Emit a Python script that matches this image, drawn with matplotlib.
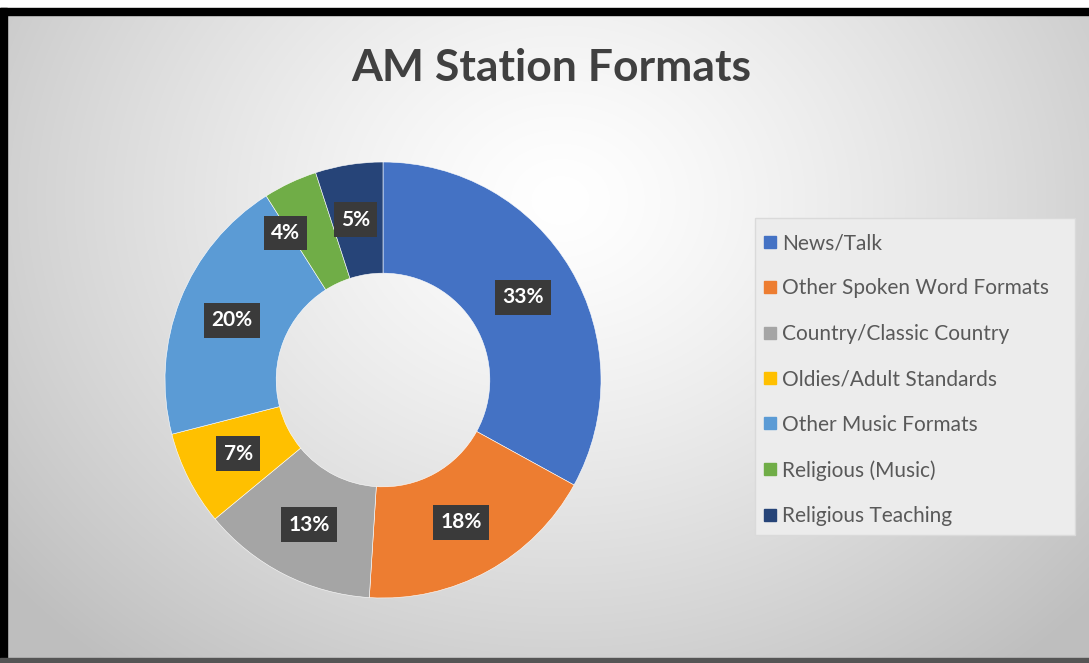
import numpy as np
import matplotlib.pyplot as plt
from matplotlib.patches import Rectangle
from matplotlib.lines import Line2D

formats = ["News/Talk", "Other Spoken Word Formats", "Country/Classic Country",
           "Oldies/Adult Standards", "Other Music Formats", "Religious (Music)",
           "Religious Teaching"]
shares = [33, 18, 13, 7, 20, 4, 5]
colors = ["#4472C4", "#ED7D31", "#A5A5A5", "#FFC000", "#5B9BD5", "#70AD47", "#264478"]
# small sideways nudge for labels that would collide (in ring radii)
nudge_x = [0, 0, 0, 0, 0, -0.13, -0.01]

W, H = 1089, 663
fig = plt.figure(figsize=(W / 100, H / 100), dpi=100)

# radial grey backdrop, bright near the title, darker at the edges
bg = fig.add_axes([0, 0, 1, 1])
yy, xx = np.mgrid[0:H, 0:W]
d = np.sqrt(((xx - 560) / 620) ** 2 + ((yy - 200) / 520) ** 2)
shade = 1.0 - 0.21 * np.clip(d, 0, 1.15) ** 1.3
bg.imshow(np.dstack([shade] * 3), extent=(0, W, H, 0), aspect='auto')
bg.set_xlim(0, W)
bg.set_ylim(H, 0)
bg.axis('off')

# frame: white strip, black top and left edges, grey bottom line
bg.add_patch(Rectangle((0, 0), W, 8, color='white'))
bg.add_patch(Rectangle((0, 8), W, 7, color='black'))
bg.add_patch(Rectangle((0, 8), 7, H, color='black'))
bg.add_patch(Rectangle((0, H - 5), W, 5, color='#555555'))

fig.text(551 / W, 1 - 68 / H, "AM Station Formats", ha='center', va='center',
         fontsize=32, fontweight='bold', color='#404040', family='Lato')

# donut, sized in pixels: centre (383, 380), outer radius 218
cx, cy, R = 383, 380, 218
ax = fig.add_axes([(cx - R) / W, (H - cy - R) / H, 2 * R / W, 2 * R / H])
wedges, _ = ax.pie(shares, colors=colors, radius=1, startangle=90, counterclock=False,
                   wedgeprops=dict(width=0.51, edgecolor='white', linewidth=0.4))
ax.set_xlim(-1, 1)
ax.set_ylim(-1, 1)
ax.set_aspect('equal')
ax.axis('off')

total = sum(shares)
start = 0
for v, nx in zip(shares, nudge_x):
    mid = start + v / 2
    ang = np.deg2rad(90 - 360 * mid / total)
    r = 0.745
    ax.text(r * np.cos(ang) + nx, r * np.sin(ang), f"{v}%", ha='center', va='center',
            color='white', fontsize=15, fontweight='bold', family='Lato',
            bbox=dict(boxstyle='square,pad=0.35', fc='#3a3a3a', ec='none'))
    start += v

# legend box
bg.add_patch(Rectangle((755, 218), 320, 317, fc='#ececec', ec='#dadada', lw=1))
handles = [Line2D([], [], marker='s', ls='none', markersize=8, color=c) for c in colors]
fig.legend(handles, formats, loc='upper left', bbox_to_anchor=(764 / W, 1 - 233 / H),
           frameon=False, labelcolor='#595959', handlelength=0.55,
           handletextpad=0.3, labelspacing=1.22, borderaxespad=0, borderpad=0,
           prop=dict(family='Lato', size=15))

fig.savefig("out.png", dpi=100)
